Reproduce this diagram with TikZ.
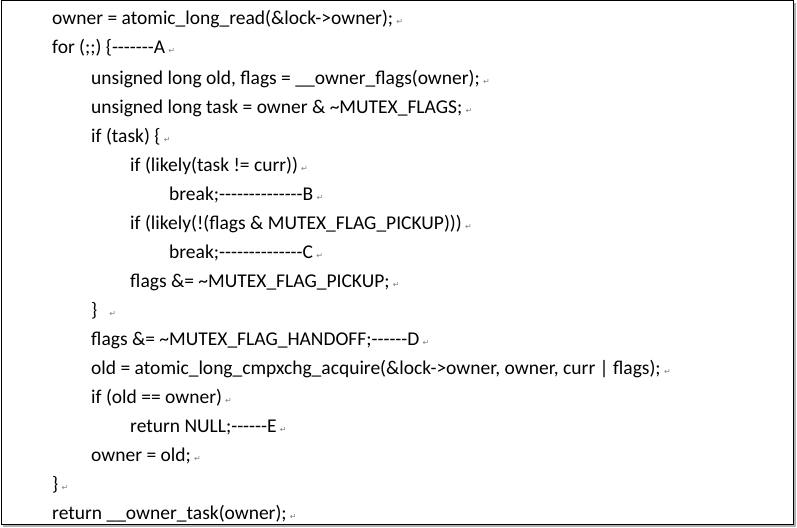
\documentclass[tikz,border=0pt]{standalone}
\usepackage{fontspec}
\setmainfont{Carlito}[Ligatures=TeXOff]
\newfontfamily\symf{DejaVu Sans}
\newcommand\rt{\,{\symf\fontsize{8}{9}\selectfont\textcolor{gray}{↵}}}
\begin{document}
\begin{tikzpicture}[x=1pt,y=-1pt,
  ln/.style={anchor=base west,inner sep=0pt,font=\fontsize{19.5}{22}\selectfont}]
\useasboundingbox (0,0) rectangle (797,527);
\draw[line width=1pt] (1,1) rectangle (793,524);
\draw[line width=1.5pt,gray!60] (795,3) -- (795,526) -- (3,526);
\def\L#1#2#3#4{\node[ln] (#1) at (#2,#3) {#4\rt};}
\L{l1}{52}{25}{owner = atomic\_long\_read(\&lock->owner);}
\L{l2}{52}{54}{for (;;) \{-------A}
\L{l3}{91}{84}{unsigned long old, flags = \_\_owner\_flags(owner);}
\L{l4}{91}{113}{unsigned long task = owner \& \textasciitilde MUTEX\_FLAGS;}
\L{l5}{91}{142}{if (task) \{}
\L{l6}{130}{171}{if (likely(task != curr))}
\L{l7}{169}{200}{break;--------------B}
\L{l8}{130}{229}{if (likely(!(flags \& MUTEX\_FLAG\_PICKUP)))}
\L{l9}{169}{258}{break;--------------C}
\L{l10}{130}{287}{flags \&= \textasciitilde MUTEX\_FLAG\_PICKUP;}
\L{l11}{91}{316}{\}\ \ }
\L{l12}{91}{345}{flags \&= \textasciitilde MUTEX\_FLAG\_HANDOFF;------D}
\L{l13}{91}{374}{old = atomic\_long\_cmpxchg\_acquire(\&lock->owner, owner, curr \textbar\ flags);}
\L{l14}{91}{403}{if (old == owner)}
\L{l15}{130}{432}{return NULL;------E}
\L{l16}{91}{461}{owner = old;}
\L{l17}{52}{490}{\}}
\L{l18}{52}{519}{return \_\_owner\_task(owner);}
\end{tikzpicture}
\end{document}
